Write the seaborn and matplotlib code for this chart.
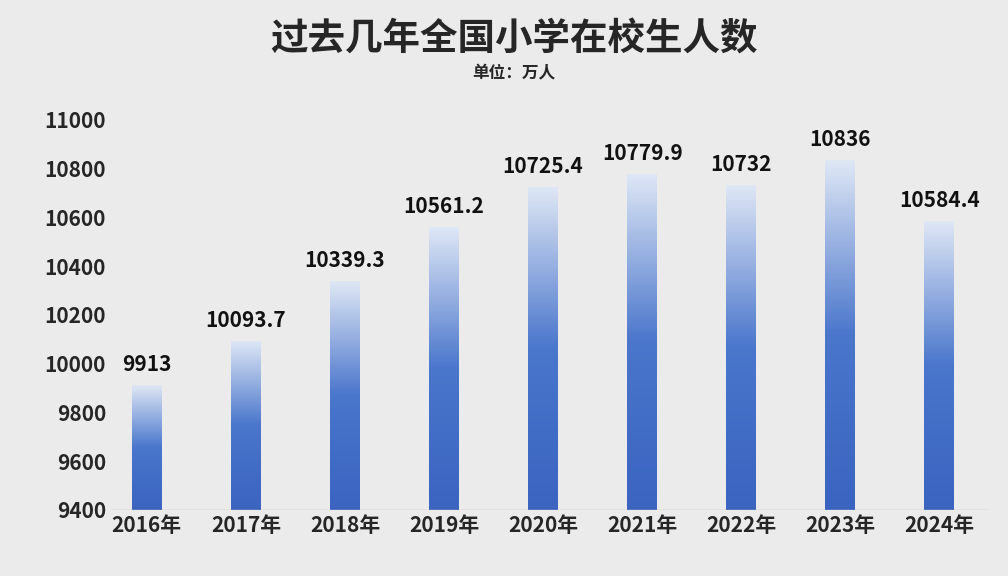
import numpy as np
import pandas as pd
import matplotlib.pyplot as plt
import seaborn as sns
from matplotlib.colors import LinearSegmentedColormap

years = ['2016年', '2017年', '2018年', '2019年', '2020年', '2021年', '2022年', '2023年', '2024年']
students = [9913, 10093.7, 10339.3, 10561.2, 10725.4, 10779.9, 10732, 10836, 10584.4]
value_labels = ['9913', '10093.7', '10339.3', '10561.2', '10725.4', '10779.9', '10732', '10836', '10584.4']

sns.set_style('white')
plt.rcParams['font.family'] = ['Noto Sans CJK SC', 'DejaVu Sans']

df = pd.DataFrame({'year': years, 'students': students})

fig = plt.figure(figsize=(10.08, 5.76), dpi=100, facecolor='#ebebeb')
ax = fig.add_axes([0.11, 0.115, 0.871, 0.703])
ax.set_facecolor('#ebebeb')

sns.barplot(data=df, x='year', y='students', width=0.3, color='#4472c4', ax=ax)

ax.set_ylim(9400, 11062)
ax.set_yticks(range(9400, 11001, 200))
ax.set_xlim(-0.363, len(years) - 0.5)

## gradient fill on each bar
cmap = LinearSegmentedColormap.from_list('g', ['#3a64c0', '#4a76cc', '#dfe7f5'])
grad = np.linspace(0, 1, 256).reshape(-1, 1)
for bar in ax.patches:
    x0, w = bar.get_x(), bar.get_width()
    top = bar.get_height()
    im = ax.imshow(grad, cmap=cmap, aspect='auto', origin='lower',
                   extent=[x0, x0 + w, 9400, top], zorder=2)
    im.set_clip_path(bar)
    bar.set_facecolor('none')
    bar.set_edgecolor('none')

for i, (v, lab) in enumerate(zip(students, value_labels)):
    ax.text(i, v + 40, lab, ha='center', va='bottom', fontsize=15, fontweight='bold', color='#111111')

ax.set_xlabel('')
ax.set_ylabel('')
ax.tick_params(axis='both', length=0, labelsize=15)
for t in ax.get_xticklabels() + ax.get_yticklabels():
    t.set_fontweight('bold')
sns.despine(ax=ax, left=True, bottom=True, top=True, right=True)
ax.axhline(9400, color='#bfbfbf', lw=1)

fig.text(0.51, 0.932, '过去几年全国小学在校生人数', ha='center', va='center', fontsize=27, fontweight='bold')
fig.text(0.51, 0.872, '单位：万人', ha='center', va='center', fontsize=12, fontweight='bold')

fig.savefig('out.png', dpi=100, facecolor=fig.get_facecolor())
